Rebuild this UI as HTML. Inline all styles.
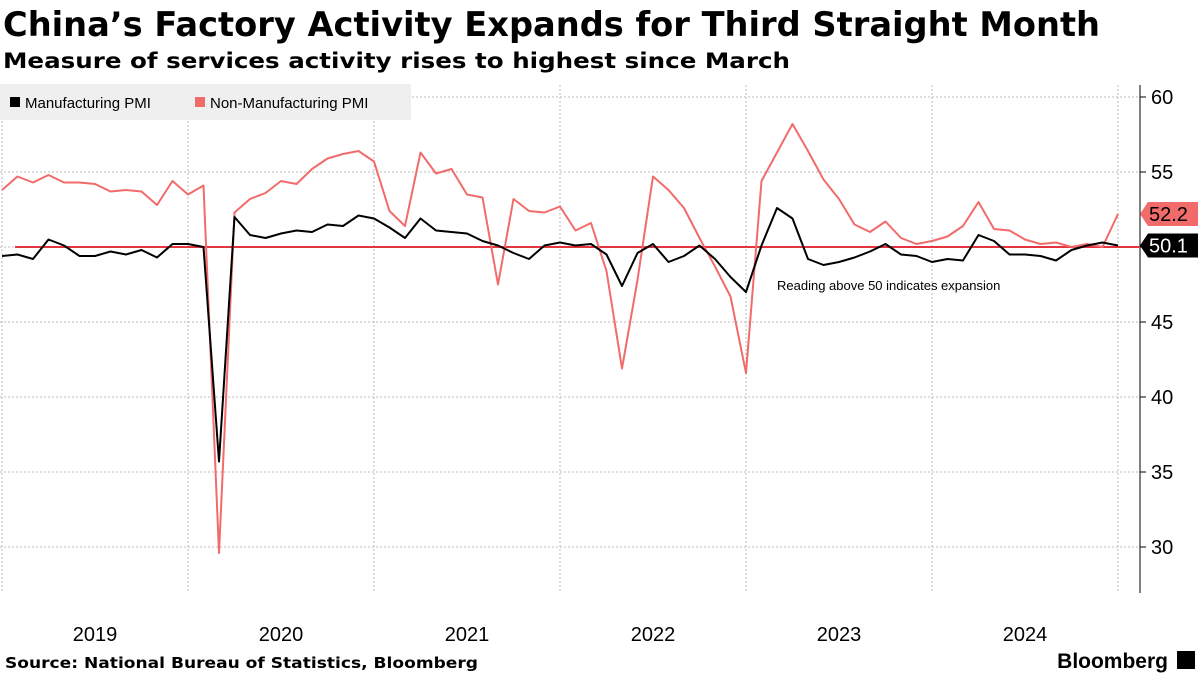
<!DOCTYPE html>
<html><head><meta charset="utf-8"><style>
body{margin:0;background:#fff;font-family:"Liberation Sans",sans-serif;}
svg text{font-family:"Liberation Sans",sans-serif;}
svg text.hd{font-family:"DejaVu Sans","Liberation Sans",sans-serif;}
</style></head><body>
<svg id="chart" width="1200" height="675" xmlns="http://www.w3.org/2000/svg">
<text class="hd" x="3" y="36" font-size="34" font-weight="bold" fill="#000" textLength="1097" lengthAdjust="spacingAndGlyphs">China’s Factory Activity Expands for Third Straight Month</text>
<text class="hd" x="3" y="68" font-size="21" font-weight="bold" fill="#000" textLength="787" lengthAdjust="spacingAndGlyphs">Measure of services activity rises to highest since March</text>
<g id="grid"></g>
<g id="legend">
<rect x="0" y="84" width="411" height="36" fill="#efefef"/>
<rect x="10" y="97" width="10" height="10" fill="#000"/>
<text x="25" y="108" font-size="15" fill="#000">Manufacturing PMI</text>
<rect x="195" y="97" width="10" height="10" fill="#f26b6b"/>
<text x="210" y="108" font-size="15" fill="#000">Non-Manufacturing PMI</text>
</g>
<g id="marks"></g>
<text x="777" y="290" font-size="13" fill="#000">Reading above 50 indicates expansion</text>
<text class="hd" x="5" y="668" font-size="15" font-weight="bold" fill="#000" textLength="473" lengthAdjust="spacingAndGlyphs">Source: National Bureau of Statistics, Bloomberg</text>
<text x="1168" y="668" font-size="21" font-weight="bold" fill="#000" text-anchor="end">Bloomberg</text>
<rect x="1177" y="651" width="18" height="18" fill="#000"/>
</svg>
<script>
const startLabel = "2018-12";
const manufacturing = [49.4,
49.5,49.2,50.5,50.1,49.4,49.4,49.7,49.5,49.8,49.3,50.2,50.2,
50.0,35.7,52.0,50.8,50.6,50.9,51.1,51.0,51.5,51.4,52.1,51.9,
51.3,50.6,51.9,51.1,51.0,50.9,50.4,50.1,49.6,49.2,50.1,50.3,
50.1,50.2,49.5,47.4,49.6,50.2,49.0,49.4,50.1,49.2,48.0,47.0,
50.1,52.6,51.9,49.2,48.8,49.0,49.3,49.7,50.2,49.5,49.4,49.0,
49.2,49.1,50.8,50.4,49.5,49.5,49.4,49.1,49.8,50.1,50.3,50.1];
const nonManufacturing = [53.8,
54.7,54.3,54.8,54.3,54.3,54.2,53.7,53.8,53.7,52.8,54.4,53.5,
54.1,29.6,52.3,53.2,53.6,54.4,54.2,55.2,55.9,56.2,56.4,55.7,
52.4,51.4,56.3,54.9,55.2,53.5,53.3,47.5,53.2,52.4,52.3,52.7,
51.1,51.6,48.4,41.9,47.8,54.7,53.8,52.6,50.6,48.7,46.7,41.6,
54.4,56.3,58.2,56.4,54.5,53.2,51.5,51.0,51.7,50.6,50.2,50.4,
50.7,51.4,53.0,51.2,51.1,50.5,50.2,50.3,50.0,50.2,50.0,52.2];
const yTicks = [30,35,40,45,50,55,60];
const years = ["2019","2020","2021","2022","2023","2024"];
const threshold = 50;

const NS="http://www.w3.org/2000/svg";
const x = i => 2 + 15.5*i;
const y = v => 247 - (v-50)*15;
const grid=document.getElementById('grid'), marks=document.getElementById('marks');
function mk(tag, attrs, parent){const e=document.createElementNS(NS,tag);for(const k in attrs)e.setAttribute(k,attrs[k]);parent.appendChild(e);return e;}

yTicks.forEach(t=>{
  const l=mk('line',{x1:0,x2:1140,y1:y(t),y2:y(t),stroke:'#bbb','stroke-dasharray':'2,2'},grid);
  
  
  mk('line',{x1:1140,x2:1146,y1:y(t),y2:y(t),stroke:'#000'},grid);
  const tx=mk('text',{x:1151,y:y(t)+7,'font-size':20,fill:'#000'},grid);
  tx.textContent=t;
  
  
});
mk('line',{x1:1140,x2:1140,y1:85,y2:593,stroke:'#000'},grid);
for(let k=0;k<=6;k++){
  const gx=x(1+12*k)-15.5;
  const l=mk('line',{x1:gx,x2:gx,y1:85,y2:593,stroke:'#bbb','stroke-dasharray':'2,2'},grid);
  
  
}
years.forEach((yr,k)=>{
  const tx=mk('text',{x:x(1+12*k)-15.5+93,y:641,'font-size':20,fill:'#000','text-anchor':'middle'},grid);
  tx.textContent=yr;
  
  
});
const th=mk('line',{x1:15,x2:1140,y1:y(threshold),y2:y(threshold),stroke:'#e3343f','stroke-width':2},marks);


function line(data,color,name){
  const p=mk('polyline',{points:data.map((v,i)=>x(i)+','+y(v)).join(' '),fill:'none',stroke:color,'stroke-width':2,'stroke-linejoin':'round'},marks);
  
  
}
line(nonManufacturing,'#f26b6b','non-manufacturing-line');
line(manufacturing,'#000','manufacturing-line');
function badge(v,bg,fg,name){
  const yy=y(v);
  const g=mk('g',{},marks);
  
  
  mk('polygon',{points:`1140,${yy} 1148,${yy-12} 1198,${yy-12} 1198,${yy+12} 1148,${yy+12}`,fill:bg},g);
  const t=mk('text',{x:1149,y:yy+7,'font-size':20,fill:fg},g);
  t.textContent=v.toFixed(1);
}
badge(nonManufacturing[nonManufacturing.length-1],'#f26b6b','#000','non-manufacturing-last-value');
badge(manufacturing[manufacturing.length-1],'#000','#fff','manufacturing-last-value');
</script>
</body></html>
